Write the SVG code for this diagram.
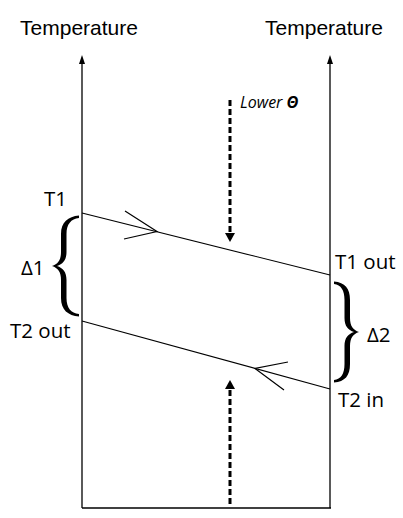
<svg xmlns="http://www.w3.org/2000/svg" width="403" height="518" viewBox="0 0 403 518">
<defs>
<style>
.ax{fill:none;stroke:#000;stroke-width:1.3}
.ln{fill:none;stroke:#000;stroke-width:1.2}
.dash{fill:none;stroke:#000;stroke-width:3;stroke-dasharray:6 3}
.hd{fill:#000}
.title{font-family:"Liberation Sans",Arial,sans-serif;font-size:21px;fill:#000}
.lbl{font-family:"Open Sans","Noto Sans",sans-serif;font-size:20.5px;fill:#000}
.note{font-family:"Open Sans","Noto Sans",sans-serif;font-size:16px;font-style:italic;fill:#000}
</style>
</defs>
<g id="axis-left">
<path class="ax" d="M82,508 L82,62"/>
<path class="hd" d="M82,55 L85,64 L79,64 Z"/>
<text class="title" x="79" y="35" text-anchor="middle">Temperature</text>
</g>
<g id="axis-right">
<path class="ax" d="M330,508 L330,62"/>
<path class="hd" d="M330,55 L333,64 L327,64 Z"/>
<text class="title" x="324" y="35" text-anchor="middle">Temperature</text>
</g>
<g id="connectors">
<path class="ax" d="M82,508 L331,508"/>
<path class="ln" d="M82,213 L330,275"/>
<path class="ln" d="M125,211 L157,231.5 L124,239"/>
<path class="ln" d="M82,321 L330,389"/>
<path class="ln" d="M288,362 L255,368.5 L284,390"/>
<path class="dash" d="M230,100 L230,233"/>
<path class="hd" d="M225,233 L235,233 L230,242 Z"/>
<path class="dash" d="M230,504 L230,389"/>
<path class="hd" d="M225,389 L235,389 L230,380 Z"/>
</g>
<g id="lower-theta">
<text class="note" x="240" y="108">Lower <tspan font-weight="bold">Θ</tspan></text>
</g>
<g id="T1">
<text class="lbl" x="44" y="206">T1</text>
</g>
<g id="T2out">
<text class="lbl" x="10" y="338">T2 out</text>
</g>
<g id="T1out">
<text class="lbl" x="335" y="269">T1 out</text>
</g>
<g id="T2in">
<text class="lbl" x="338" y="407">T2 in</text>
</g>
<g id="delta1">
<path class="hd" d="M79,215.5 C68,216.5 61,222 61,234 L61,252 C61,260 58,264 52,266 C58,268 61,272 61,280 L61,298 C61,310 68,315.5 79,316.5 L79,314 C71,313 66.5,308 66.5,298 L66.5,280 C66.5,272 63,268 57,266 C63,264 66.5,260 66.5,252 L66.5,234 C66.5,224 71,219 79,218 Z"/>
<text class="lbl" x="21" y="275">Δ1</text>
</g>
<g id="delta2">
<path class="hd" d="M334,281.5 C345,282.5 350,288 350,300 L350,318 C350,326 353,330 359,332 C353,334 350,338 350,346 L350,364 C350,376 345,381.5 334,382.5 L334,380 C341,379 344.5,374 344.5,364 L344.5,346 C344.5,338 348,334 354,332 C348,330 344.5,326 344.5,318 L344.5,300 C344.5,290 341,285 334,284 Z"/>
<text class="lbl" x="367" y="342">Δ2</text>
</g>
</svg>
